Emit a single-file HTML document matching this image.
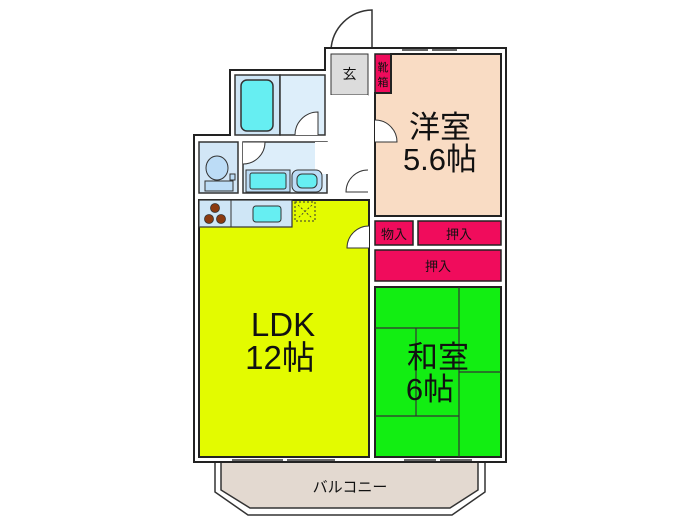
<!DOCTYPE html>
<html><head><meta charset="utf-8"><style>
html,body{margin:0;padding:0;background:#fff;width:700px;height:525px;overflow:hidden}
svg{display:block}
text{font-family:"Liberation Sans","Noto Sans CJK JP",sans-serif;fill:#111}
</style></head><body>
<svg width="700" height="525" viewBox="0 0 700 525" xmlns="http://www.w3.org/2000/svg">
<!-- balcony -->
<polygon points="215,462 485,462 485,492 452,515 248,515 215,492" fill="#fff" stroke="#333" stroke-width="1.5"/>
<polygon points="221,462 478,462 478,490 450,508 250,508 221,490" fill="#e3d9d0" stroke="#333" stroke-width="1.5"/>
<text x="350" y="492" font-size="15" text-anchor="middle">バルコニー</text>
<!-- entrance door -->
<path d="M372,50 L372,10 A42,42 0 0 0 331,50" fill="none" stroke="#333" stroke-width="1.5"/>
<!-- outer building -->
<polygon points="325,48 506,48 506,462 194,462 194,135 230,135 230,70 325,70" fill="#fff" stroke="#222" stroke-width="2"/>
<!-- 玄 -->
<rect x="331" y="54" width="37" height="41" fill="#dcdcdc" stroke="#333" stroke-width="1"/>
<text x="349.5" y="79" font-size="14" text-anchor="middle">玄</text>
<!-- 靴箱 -->
<rect x="375" y="54" width="16" height="39" fill="#f00c5c" stroke="#222" stroke-width="1.5"/>
<text x="383" y="71" font-size="11" text-anchor="middle">靴</text>
<text x="383" y="86" font-size="11" text-anchor="middle">箱</text>
<!-- 洋室 -->
<rect x="375" y="93" width="126" height="123" fill="#f9dcc4" stroke="none"/>
<rect x="391" y="54" width="110" height="40" fill="#f9dcc4" stroke="none"/>
<path d="M391,54 L501,54 L501,216 L375,216 L375,93 L391,93 Z" fill="none" stroke="#222" stroke-width="2"/>
<text x="440" y="138" font-size="31" text-anchor="middle">洋室</text>
<text x="440" y="170" font-size="31" text-anchor="middle">5.6帖</text>
<path d="M375,120 A22,22 0 0 1 397,142 L375,142" fill="#fff" stroke="#333" stroke-width="1"/>
<!-- 押入 -->
<rect x="375" y="221" width="38" height="24" fill="#f00c5c" stroke="#222" stroke-width="1.5"/>
<text x="394" y="239" font-size="13" text-anchor="middle">物入</text>
<rect x="418" y="221" width="83" height="24" fill="#f00c5c" stroke="#222" stroke-width="1.5"/>
<text x="459" y="239" font-size="13" text-anchor="middle">押入</text>
<rect x="375" y="250" width="126" height="31" fill="#f00c5c" stroke="#222" stroke-width="1.5"/>
<text x="438" y="271" font-size="13" text-anchor="middle">押入</text>
<!-- 和室 -->
<rect x="375" y="287" width="126" height="170" fill="#12ee12" stroke="#222" stroke-width="2"/>
<g stroke="#333" stroke-width="1.2" fill="none">
<line x1="459" y1="287" x2="459" y2="457"/>
<line x1="375" y1="328" x2="459" y2="328"/>
<line x1="416" y1="328" x2="416" y2="416"/>
<line x1="375" y1="416" x2="459" y2="416"/>
<line x1="459" y1="372" x2="501" y2="372"/>
</g>
<text x="438" y="368" font-size="31" text-anchor="middle">和室</text>
<text x="430" y="400" font-size="31" text-anchor="middle">6帖</text>
<!-- bath -->
<rect x="235" y="75" width="45" height="60" fill="#cfe6f6" stroke="#333" stroke-width="1.5"/>
<rect x="241" y="80" width="32" height="51" rx="6" fill="#66eef2" stroke="#333" stroke-width="1.5"/>
<rect x="280" y="75" width="45" height="60" fill="#ddeefa" stroke="#333" stroke-width="1.5"/>
<path d="M318,135 L318,112 A23,23 0 0 0 295,135" fill="#fff" stroke="#333" stroke-width="1"/>
<!-- hall -->
<rect x="330" y="95" width="38" height="100" fill="#fff"/>
<path d="M368,170 A22,22 0 0 0 346,192 L368,192" fill="#fff" stroke="#333" stroke-width="1"/>
<!-- toilet -->
<rect x="199" y="142" width="39" height="51" fill="#d2e6f6" stroke="#333" stroke-width="1.5"/>
<ellipse cx="217" cy="168" rx="11" ry="12" fill="#bcdcf6" stroke="#333" stroke-width="1"/>
<rect x="205" y="181" width="28" height="10" fill="#bcdcf6" stroke="#333" stroke-width="1"/>
<rect x="230" y="174" width="5" height="6" fill="#bcdcf6" stroke="#333" stroke-width="1"/>
<!-- wash -->
<rect x="243" y="142" width="84" height="51" fill="#ddeefa" stroke="#333" stroke-width="1.5"/>
<rect x="315" y="142" width="14" height="32" fill="#fff"/>
<path d="M243,142 L265,142 A22,22 0 0 1 243,164" fill="#fff" stroke="#333" stroke-width="1"/>
<rect x="246" y="170" width="44" height="22" fill="#bcdcf6" stroke="#333" stroke-width="1"/>
<rect x="250" y="173" width="36" height="16" rx="2" fill="#66eef2" stroke="#333" stroke-width="1"/>
<rect x="292" y="170" width="30" height="22" rx="6" fill="#bcdcf6" stroke="#333" stroke-width="1"/>
<rect x="297" y="174" width="20" height="14" rx="5" fill="#66eef2" stroke="#333" stroke-width="1"/>
<!-- LDK -->
<rect x="199" y="200" width="170" height="257" fill="#e3fb00" stroke="#222" stroke-width="2"/>
<rect x="199" y="200" width="93" height="27" fill="#cfe6f6" stroke="#333" stroke-width="1.2"/>
<line x1="231" y1="200" x2="231" y2="227" stroke="#333" stroke-width="1"/>
<circle cx="215" cy="208" r="4.5" fill="#8b3a10" stroke="#333" stroke-width="0.8"/>
<circle cx="209" cy="219" r="4.5" fill="#8b3a10" stroke="#333" stroke-width="0.8"/>
<circle cx="221" cy="219" r="4.5" fill="#8b3a10" stroke="#333" stroke-width="0.8"/>
<rect x="253" y="206" width="28" height="16" rx="3" fill="#66eef2" stroke="#333" stroke-width="1"/>
<rect x="295" y="202" width="20" height="19" fill="none" stroke="#333" stroke-width="1" stroke-dasharray="2,2"/>
<path d="M298,205 L312,218 M312,205 L298,218" stroke="#333" stroke-width="0.8" stroke-dasharray="2,2"/>
<path d="M369,226 A22,22 0 0 0 347,248 L369,248" fill="#fff" stroke="#333" stroke-width="1"/>
<text x="283" y="336" font-size="33" text-anchor="middle">LDK</text>
<text x="280" y="369" font-size="33" text-anchor="middle">12帖</text>
<!-- windows -->
<g stroke="#666" stroke-width="2">
<line x1="232" y1="460" x2="283" y2="460"/><line x1="287" y1="460" x2="335" y2="460"/>
<line x1="404" y1="460" x2="436" y2="460"/><line x1="440" y1="460" x2="472" y2="460"/>
<line x1="402" y1="50" x2="428" y2="50"/><line x1="432" y1="50" x2="457" y2="50"/>
</g>
</svg>
</body></html>
